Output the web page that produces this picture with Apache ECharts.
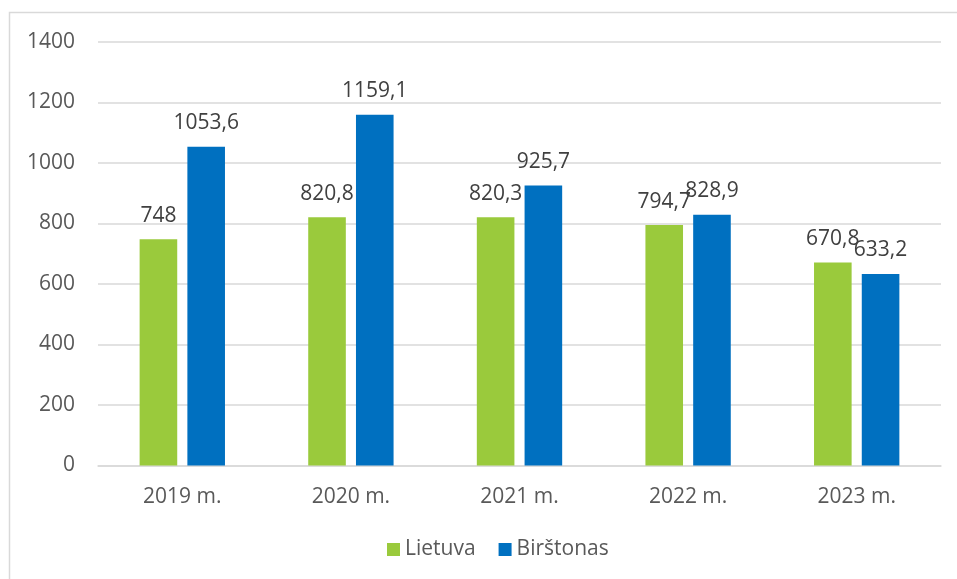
<!DOCTYPE html>
<html>
<head>
<meta charset="utf-8">
<script src="https://cdn.jsdelivr.net/npm/echarts@6/dist/echarts.min.js"></script>
<style>
  html, body { margin: 0; padding: 0; background: #fff; }
  #chart { width: 957px; height: 579px; }
</style>
</head>
<body>
<div id="chart"></div>
<script>
// data
const years = ['2019 m.', '2020 m.', '2021 m.', '2022 m.', '2023 m.'];
const lietuva = [748, 820.8, 820.3, 794.7, 670.8];
const birstonas = [1053.6, 1159.1, 925.7, 828.9, 633.2];
const seriesNames = ['Lietuva', 'Birštonas'];

const textColor = '#595959';
const lineColor = '#d9d9d9';
const font = '"Open Sans", "Noto Sans", sans-serif';
const fs = 21;

const fmt = v => String(v).replace('.', ',');

const chart = echarts.init(document.getElementById('chart'));

const barLabel = {
    show: true,
    position: 'top',
    distance: 13,
    color: '#404040',
    fontFamily: font,
    fontSize: fs,
    formatter: p => fmt(p.value)
};

chart.setOption({
    backgroundColor: '#fff',
    animation: false,
    textStyle: { fontFamily: font },
    graphic: [{
        type: 'rect',
        shape: { x: 9.5, y: 12.5, width: 1000, height: 1000 },
        style: { fill: 'none', stroke: lineColor, lineWidth: 1.5 },
        silent: true
    }],
    grid: { left: 98, right: 16, top: 42, bottom: 113.5 },
    legend: {
        bottom: 14,
        left: 382,
        itemWidth: 13,
        itemHeight: 13,
        itemGap: 23,
        icon: 'rect',
        textStyle: { color: textColor, fontSize: fs, fontFamily: font },
        data: seriesNames
    },
    xAxis: {
        type: 'category',
        data: years,
        axisLine: { lineStyle: { color: lineColor, width: 1.5 } },
        axisTick: { show: false },
        axisLabel: { color: textColor, fontSize: fs, margin: 21, fontFamily: font }
    },
    yAxis: {
        type: 'value',
        min: 0,
        max: 1400,
        interval: 200,
        axisLine: { show: false },
        axisTick: { show: false },
        splitLine: { lineStyle: { color: lineColor, width: 1.5 } },
        axisLabel: { color: textColor, fontSize: fs, margin: 23, fontFamily: font, formatter: v => String(v) }
    },
    series: [
        {
            name: seriesNames[0],
            type: 'bar',
            data: lietuva,
            barWidth: '22.3%',
            barGap: '27%',
            itemStyle: { color: '#9ACA3C' },
            label: barLabel
        },
        {
            name: seriesNames[1],
            type: 'bar',
            data: birstonas,
            barWidth: '22.3%',
            itemStyle: { color: '#0070C0' },
            label: barLabel
        }
    ]
});
</script>
</body>
</html>
